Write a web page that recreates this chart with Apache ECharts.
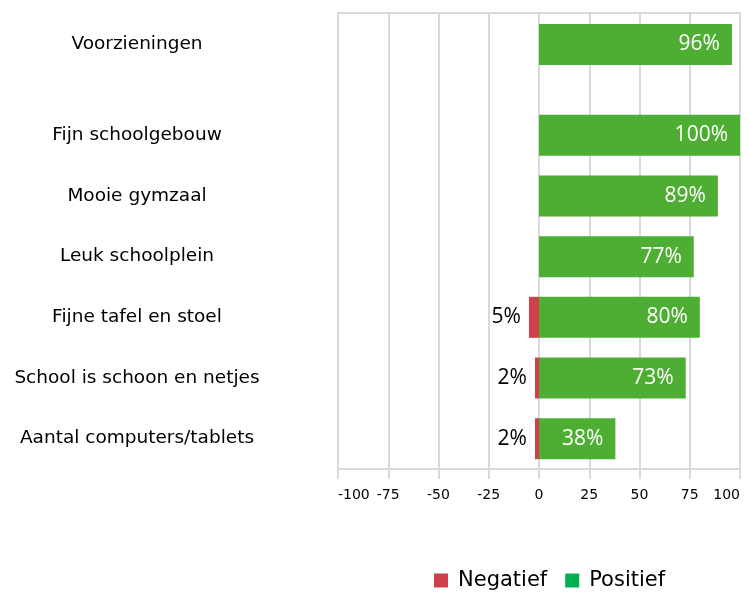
<!DOCTYPE html>
<html>
<head>
<meta charset="utf-8">
<script src="https://cdn.jsdelivr.net/npm/echarts@6/dist/echarts.min.js"></script>
<style>
  html, body { margin: 0; padding: 0; background: #fff; }
  #chart { width: 749px; height: 593px; }
</style>
</head>
<body>
<div id="chart"></div>
<script>
// kopregel en de items eronder
var headerCategory = ['Voorzieningen'];
var headerPositive = [96];

var categories = [
  'Fijn schoolgebouw',
  'Mooie gymzaal',
  'Leuk schoolplein',
  'Fijne tafel en stoel',
  'School is schoon en netjes',
  'Aantal computers/tablets'
];
var negative = ['-', '-', '-', -5, -2, -2];
var positive = [100, 89, 77, 80, 73, 38];

var xMin = -100, xMax = 100, xStep = 25;

var myChart = echarts.init(document.getElementById('chart'));

var gridColor = '#D9D9D9';
var catLabel = {
  fontFamily: 'DejaVu Sans',
  fontSize: 18.5,
  color: '#000',
  align: 'center',
  margin: 201
};
var hiddenX = { type: 'value', min: xMin, max: xMax, interval: xStep, show: false };

var posLabel = {
  show: true,
  position: 'insideRight',
  distance: 12,
  color: '#fff',
  fontFamily: 'Open Sans',
  fontSize: 21,
  formatter: function (p) { return p.value + '%'; }
};

var option = {
  backgroundColor: '#fff',
  animation: false,
  legend: {
    data: [
      { name: 'Negatief', itemStyle: { color: '#D0404C' } },
      { name: 'Positief', itemStyle: { color: '#00B050' } }
    ],
    left: 429,
    top: 565,
    icon: 'rect',
    itemWidth: 14,
    itemHeight: 14,
    itemGap: 18,
    textStyle: { fontFamily: 'DejaVu Sans', fontSize: 21, color: '#000', padding: [0, 0, 0, 5] }
  },
  grid: [
    // achtergrond: rasterlijnen en as
    { left: 338, right: 9, top: 13, bottom: 124, show: true, borderColor: gridColor, borderWidth: 2 },
    // zes items
    { left: 338, right: 9, top: 105, bottom: 124 },
    // kopregel
    { left: 338, right: 9, top: 14, height: 61 }
  ],
  xAxis: [
    {
      gridIndex: 0,
      type: 'value',
      min: xMin,
      max: xMax,
      interval: xStep,
      axisLine: { show: true, lineStyle: { color: gridColor, width: 2 } },
      axisTick: { show: true, length: 10, lineStyle: { color: gridColor, width: 2 } },
      splitLine: { show: true, lineStyle: { color: gridColor, width: 2 } },
      axisLabel: {
        fontFamily: 'DejaVu Sans',
        fontSize: 14,
        color: '#000',
        margin: 19,
        alignMinLabel: 'left',
        alignMaxLabel: 'right'
      }
    },
    Object.assign({ gridIndex: 1 }, hiddenX),
    Object.assign({ gridIndex: 2 }, hiddenX)
  ],
  yAxis: [
    { gridIndex: 0, type: 'value', show: false },
    {
      gridIndex: 1,
      type: 'category',
      inverse: true,
      data: categories,
      axisLine: { show: false },
      axisTick: { show: false },
      axisLabel: catLabel
    },
    {
      gridIndex: 2,
      type: 'category',
      inverse: true,
      data: headerCategory,
      axisLine: { show: false },
      axisTick: { show: false },
      axisLabel: catLabel
    }
  ],
  series: [
    {
      name: 'Negatief',
      type: 'bar',
      xAxisIndex: 1,
      yAxisIndex: 1,
      stack: 'totaal',
      barWidth: 41,
      data: negative,
      itemStyle: { color: '#D0404C' },
      label: {
        show: true,
        position: 'left',
        distance: 8,
        color: '#000',
        fontFamily: 'Open Sans',
        fontSize: 21,
        formatter: function (p) { return Math.abs(p.value) + '%'; }
      }
    },
    {
      name: 'Positief',
      type: 'bar',
      xAxisIndex: 1,
      yAxisIndex: 1,
      stack: 'totaal',
      barWidth: 41,
      data: positive,
      itemStyle: { color: '#4EAE33' },
      label: posLabel
    },
    {
      name: 'Positief',
      type: 'bar',
      xAxisIndex: 2,
      yAxisIndex: 2,
      barWidth: 41,
      data: headerPositive,
      itemStyle: { color: '#4EAE33' },
      label: posLabel
    }
  ]
};

myChart.setOption(option);
</script>
</body>
</html>
